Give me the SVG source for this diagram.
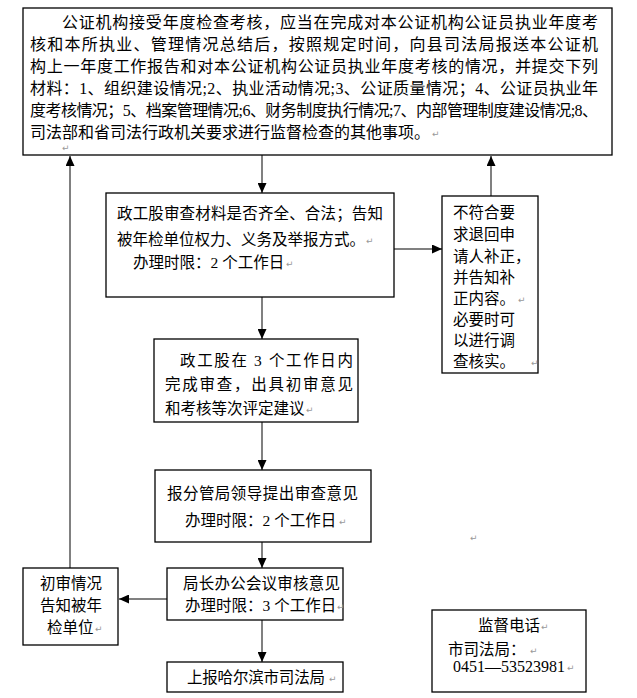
<svg xmlns="http://www.w3.org/2000/svg" width="637" height="698" viewBox="0 0 637 698">
<style>
.box{fill:#fff;stroke:#000;stroke-width:1.3}
.t{font-family:"Liberation Serif","Noto Sans CJK SC",serif;font-size:15.5px;fill:#000}
.tt{font-family:"Liberation Serif","Noto Sans CJK SC",serif;font-size:16px;fill:#000}
.pm{font-family:"DejaVu Sans",sans-serif;font-size:9px;fill:#999}
.c{stroke:#808080;stroke-width:2;fill:none;marker-end:url(#ah)}
</style>
<defs>
<marker id="ah" markerUnits="userSpaceOnUse" markerWidth="10" markerHeight="9" refX="10" refY="4.5" orient="auto">
<path d="M0,0 L10,4.5 L0,9 z" fill="#000"/>
</marker>
</defs>
<rect width="637" height="698" fill="#fff"/>
<g id="connectors">
<line class="c" x1="262" y1="155" x2="262" y2="193"/>
<line class="c" x1="70" y1="568" x2="70" y2="156"/>
<line class="c" x1="491" y1="196" x2="491" y2="156"/>
<line class="c" x1="394" y1="249" x2="442" y2="249"/>
<line class="c" x1="262" y1="297" x2="262" y2="339"/>
<line class="c" x1="262" y1="422" x2="262" y2="470"/>
<line class="c" x1="262" y1="542" x2="262" y2="568"/>
<line class="c" x1="167" y1="599" x2="119" y2="599"/>
<line class="c" x1="262" y1="620" x2="262" y2="662"/>
</g>
<g id="top">
<rect class="box" x="23" y="8" width="589" height="147"/>
<text class="tt" x="62" y="28" textLength="536" lengthAdjust="spacing">公证机构接受年度检查考核，应当在完成对本公证机构公证员执业年度考</text>
<text class="tt" x="30" y="50" textLength="568" lengthAdjust="spacing">核和本所执业、管理情况总结后，按照规定时间，向县司法局报送本公证机</text>
<text class="tt" x="30" y="72" textLength="568" lengthAdjust="spacing">构上一年度工作报告和对本公证机构公证员执业年度考核的情况，并提交下列</text>
<text class="tt" x="30" y="94" textLength="568" lengthAdjust="spacing">材料：1、组织建设情况;2、执业活动情况;3、公证质量情况；4、公证员执业年</text>
<text class="tt" x="30" y="116" textLength="568" lengthAdjust="spacing">度考核情况；5、档案管理情况;6、财务制度执行情况;7、内部管理制度建设情况;8、</text>
<text class="tt" x="30" y="138">司法部和省司法行政机关要求进行监督检查的其他事项。</text>
<text class="pm" x="432" y="137">↵</text>
<text class="pm" x="62" y="151">↵</text>
</g>
<g id="review">
<rect class="box" x="106" y="193" width="288" height="104"/>
<text class="t" x="117" y="219" textLength="266" lengthAdjust="spacing">政工股审查材料是否齐全、合法；告知</text>
<text class="t" x="117" y="245">被年检单位权力、义务及举报方式。</text>
<text class="t" x="133" y="268">办理时限：2 个工作日</text>
<text class="pm" x="366" y="244">↵</text>
<text class="pm" x="286" y="267">↵</text>
</g>
<g id="reject">
<rect class="box" x="442" y="196" width="96" height="177"/>
<text class="t" x="453" y="218">不符合要</text>
<text class="t" x="453" y="240">求退回申</text>
<text class="t" x="453" y="262">请人补正，</text>
<text class="t" x="453" y="283">并告知补</text>
<text class="t" x="453" y="304">正内容。</text>
<text class="t" x="453" y="325">必要时可</text>
<text class="t" x="453" y="346">以进行调</text>
<text class="t" x="453" y="367">查核实。</text>
<text class="pm" x="518" y="303">↵</text>
<text class="pm" x="531" y="366">↵</text>
</g>
<g id="prelim">
<rect class="box" x="154" y="339" width="204" height="83"/>
<text class="t" x="180" y="366" textLength="173" lengthAdjust="spacing">政工股在 3 个工作日内</text>
<text class="t" x="165" y="390" textLength="188" lengthAdjust="spacing">完成审查，出具初审意见</text>
<text class="t" x="165" y="414">和考核等次评定建议</text>
<text class="pm" x="306" y="413">↵</text>
</g>
<g id="leader">
<rect class="box" x="155" y="470" width="216" height="72"/>
<text class="t" x="167" y="499" textLength="191" lengthAdjust="spacing">报分管局领导提出审查意见</text>
<text class="t" x="185" y="526">办理时限：2 个工作日</text>
<text class="pm" x="339" y="525">↵</text>
</g>
<g id="meeting">
<rect class="box" x="167" y="568" width="176" height="52"/>
<text class="t" x="183" y="589" textLength="157" lengthAdjust="spacing">局长办公会议审核意见</text>
<text class="t" x="185" y="611">办理时限：3 个工作日</text>
<text class="pm" x="337" y="610">↵</text>
</g>
<g id="notify">
<rect class="box" x="23" y="568" width="95" height="77"/>
<text class="t" x="40" y="589">初审情况</text>
<text class="t" x="40" y="611">告知被年</text>
<text class="t" x="47" y="633">检单位</text>
<text class="pm" x="95" y="632">↵</text>
</g>
<g id="report">
<rect class="box" x="167" y="662" width="176" height="30"/>
<text class="t" x="187" y="683" textLength="138" lengthAdjust="spacing">上报哈尔滨市司法局</text>
<text class="pm" x="329" y="682">↵</text>
</g>
<g id="phone">
<rect class="box" x="432" y="610" width="154" height="82"/>
<text class="t" x="478" y="631">监督电话</text>
<text class="t" x="448" y="655">市司法局：</text>
<text class="tt" x="453" y="672">0451—53523981</text>
<text class="pm" x="541" y="630">↵</text>
<text class="pm" x="530" y="654">↵</text>
<text class="pm" x="567" y="671">↵</text>
</g>
<text class="pm" x="470" y="541">↵</text>
</svg>
